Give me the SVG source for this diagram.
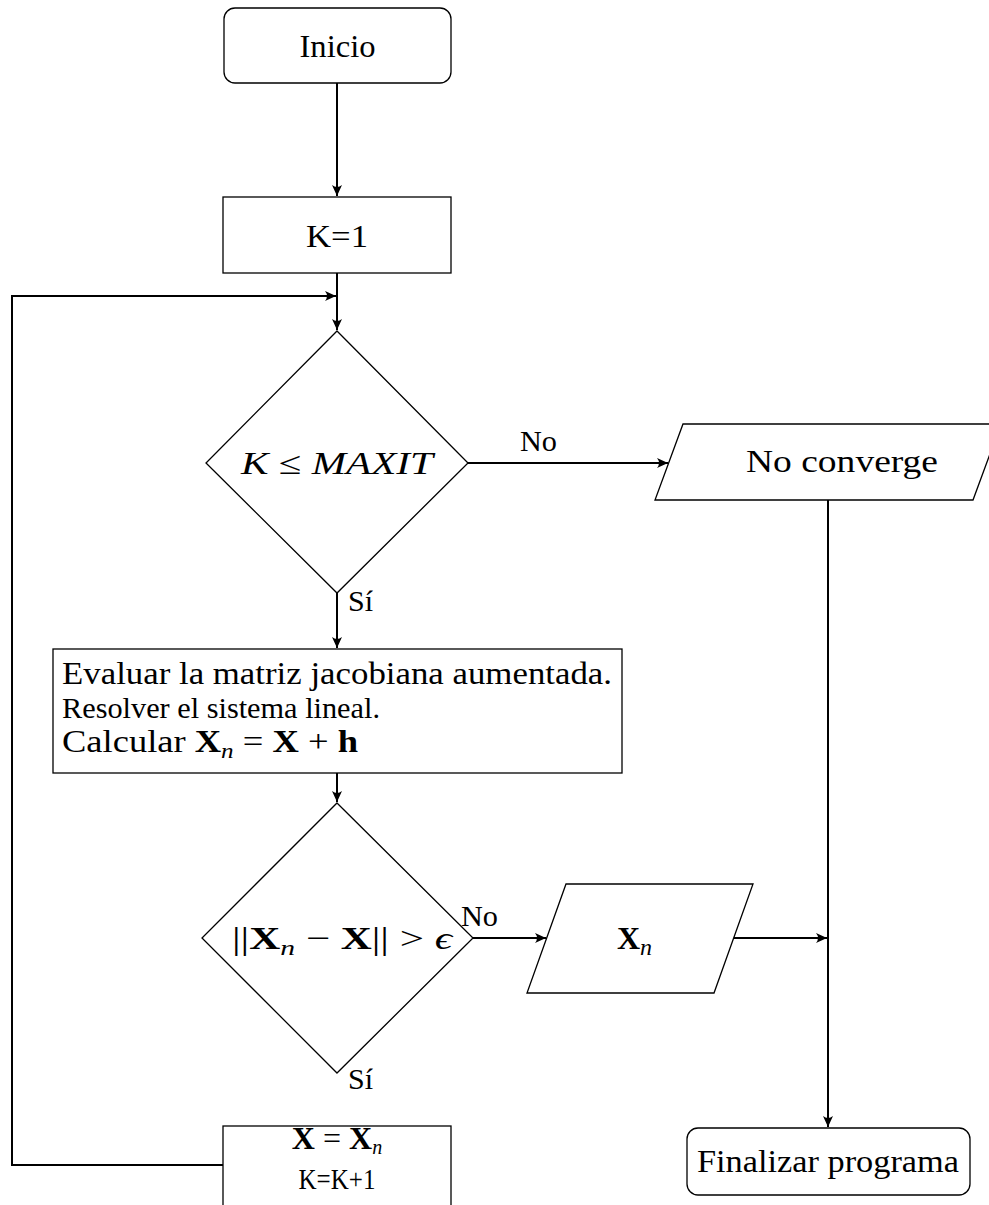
<svg xmlns="http://www.w3.org/2000/svg" width="989" height="1205" viewBox="0 0 989 1205">
  <style>
    .node { fill: #ffffff; stroke: #000000; stroke-width: 1.3; }
    .edge { fill: none; stroke: #000000; stroke-width: 2; }
    .t { font-family: "Liberation Serif", "DejaVu Serif", serif; font-size: 32px; fill: #000000; }
    .s { font-size: 30px; }
    .c { text-anchor: middle; }
    .m { font-style: italic; }
    .b { font-weight: bold; font-style: normal; }
    .lbl { font-family: "Liberation Serif", "DejaVu Serif", serif; font-size: 30px; fill: #000000; }
  </style>
  <defs>
    <marker id="arrow" viewBox="-12 -6 13 12" refX="0" refY="0" markerWidth="13" markerHeight="12" markerUnits="userSpaceOnUse" orient="auto">
      <path d="M0,0 L-11,-5 Q-7,0 -11,5 Z" fill="#000000"/>
    </marker>
  </defs>

  <rect width="989" height="1205" fill="#ffffff"/>

  <!-- connectors -->
  <g id="connectors">
    <path class="edge" d="M337,83 V196" marker-end="url(#arrow)"/>
    <path class="edge" d="M337,273 V330" marker-end="url(#arrow)"/>
    <path class="edge" d="M223,1165 H12 V296 H336" marker-end="url(#arrow)"/>
    <path class="edge" d="M467,463 H668" marker-end="url(#arrow)"/>
    <path class="edge" d="M337,593 V648" marker-end="url(#arrow)"/>
    <path class="edge" d="M337,773 V802" marker-end="url(#arrow)"/>
    <path class="edge" d="M473,938 H546" marker-end="url(#arrow)"/>
    <path class="edge" d="M734,938 H827" marker-end="url(#arrow)"/>
    <path class="edge" d="M828,500 V1127" marker-end="url(#arrow)"/>
    <text class="lbl" x="520" y="451" textLength="37" lengthAdjust="spacingAndGlyphs">No</text>
    <text class="lbl" x="348" y="611">Sí</text>
    <text class="lbl" x="461" y="926" textLength="37" lengthAdjust="spacingAndGlyphs">No</text>
    <text class="lbl" x="348" y="1089">Sí</text>
  </g>

  <!-- start -->
  <g id="inicio">
    <rect class="node" x="224" y="8" width="227" height="75" rx="11"/>
    <text class="t c" x="337.5" y="57" textLength="76" lengthAdjust="spacingAndGlyphs">Inicio</text>
  </g>

  <!-- counter initialisation -->
  <g id="k1">
    <rect class="node" x="223" y="197" width="228" height="76"/>
    <text class="t c" x="337" y="247" textLength="62" lengthAdjust="spacingAndGlyphs">K=1</text>
  </g>

  <!-- iteration limit test -->
  <g id="maxit">
    <polygon class="node" points="337,331 468,463 337,593 206,463"/>
    <text class="t c m" x="337" y="474" textLength="192" lengthAdjust="spacingAndGlyphs">K ≤ MAXIT</text>
  </g>

  <!-- no convergence output -->
  <g id="noconverge">
    <polygon class="node" points="683,424 1001,424 973,500 655,500"/>
    <text class="t c" x="842" y="472" textLength="192" lengthAdjust="spacingAndGlyphs">No converge</text>
  </g>

  <!-- Newton step -->
  <g id="paso">
    <rect class="node" x="53" y="649" width="569" height="124"/>
    <text class="t" x="62" y="684" textLength="550" lengthAdjust="spacingAndGlyphs">Evaluar la matriz jacobiana aumentada.</text>
    <text class="t s" x="62" y="718" textLength="318" lengthAdjust="spacingAndGlyphs">Resolver el sistema lineal.</text>
    <text class="t" x="62" y="752" textLength="296" lengthAdjust="spacingAndGlyphs">Calcular <tspan class="b">X</tspan><tspan class="m" font-size="22" dy="6">n</tspan><tspan dy="-6"> = </tspan><tspan class="b">X</tspan> + <tspan class="b">h</tspan></text>
  </g>

  <!-- tolerance test -->
  <g id="tolerancia">
    <polygon class="node" points="337,803 473,938 337,1073 202,938"/>
    <text class="t c" x="342" y="949" textLength="220" lengthAdjust="spacingAndGlyphs">||<tspan class="b">X</tspan><tspan class="m" font-size="22" dy="6">n</tspan><tspan dy="-6"> − </tspan><tspan class="b">X</tspan>|| &gt; <tspan class="m">ϵ</tspan></text>
  </g>

  <!-- solution output -->
  <g id="solucion">
    <polygon class="node" points="566,884 753,884 714,993 527,993"/>
    <text class="t" x="617" y="949" font-size="34"><tspan class="b">X</tspan><tspan class="m" font-size="24" dy="6">n</tspan></text>
  </g>

  <!-- update -->
  <g id="actualizar">
    <rect class="node" x="223" y="1126" width="228" height="90"/>
    <text class="t c" x="337" y="1149"><tspan class="b">X</tspan> = <tspan class="b">X</tspan><tspan class="m" font-size="20" dy="5">n</tspan></text>
    <text class="t s c" x="337" y="1189" textLength="77" lengthAdjust="spacingAndGlyphs">K=K+1</text>
  </g>

  <!-- end -->
  <g id="fin">
    <rect class="node" x="687" y="1128" width="283" height="67" rx="11"/>
    <text class="t c" x="828" y="1172" textLength="262" lengthAdjust="spacingAndGlyphs">Finalizar programa</text>
  </g>
</svg>
